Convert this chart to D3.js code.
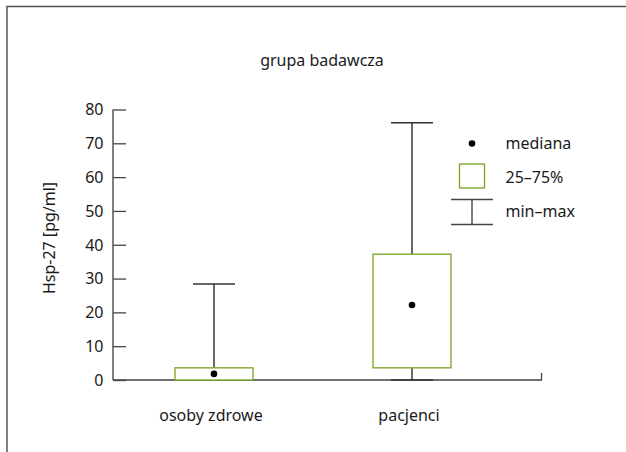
<!DOCTYPE html>
<html>
<head>
<meta charset="utf-8">
<script src="https://cdn.jsdelivr.net/npm/d3@7"></script>
<style>
  body { margin: 0; background: #fff; }
  svg { display: block; }
  text { font-family: "Noto Sans", "Open Sans", sans-serif; fill: #1a1a1a; }
</style>
</head>
<body>
<svg id="chart" width="626" height="452"></svg>
<script>
// data
var categories = ["osoby zdrowe", "pacjenci"];
var mins    = [0, 0];
var q1s     = [0, 3.6];
var medians = [1.8, 22.2];
var q3s     = [3.6, 37.2];
var maxs    = [28.4, 76.1];
var yTicks  = [0, 10, 20, 30, 40, 50, 60, 70, 80];
var legendLabels = ["mediana", "25\u201375%", "min\u2013max"];

var data = categories.map(function(c, i) {
    return { name: c, min: mins[i], q1: q1s[i], med: medians[i], q3: q3s[i], max: maxs[i] };
});

var svg = d3.select("#chart");
var green = "#7aa31f";
var ink = "#1a1a1a";
var fontsize = 16;

// outer frame: only top and left edges show in the picture
svg.append("path")
    .attr("d", "M7,452 V6.5 H626")
    .attr("fill", "none")
    .attr("stroke", "#555")
    .attr("stroke-width", 1.5);

var y = d3.scaleLinear().domain([0, 80]).range([380, 109.5]);
var x = d3.scaleBand().domain(categories).range([115, 511]).padding(0);
var boxW = 78, capW = 42;

// y axis, ticks pointing inward
var yAxis = svg.append("g")
    .attr("transform", "translate(113,0)")
    .call(d3.axisRight(y).tickValues(yTicks).tickSize(13).tickFormat(""));
yAxis.select(".domain").remove();
yAxis.selectAll("line").attr("stroke", "#444").attr("stroke-width", 1.3);
svg.append("line")
    .attr("x1", 113).attr("x2", 113)
    .attr("y1", y(80)).attr("y2", y(0))
    .attr("stroke", "#555").attr("stroke-width", 1.5);

svg.selectAll("text.ytick").data(yTicks).enter()
    .append("text")
        .attr("class", "ytick")
        .attr("x", 103.5)
        .attr("y", function(d) { return y(d); })
        .attr("dy", "0.36em")
        .attr("text-anchor", "end")
        .attr("font-size", fontsize + "px")
        .text(function(d) { return d; });

// x axis with a small end tick
svg.append("path")
    .attr("d", "M113," + y(0) + " H541.5 V" + (y(0) - 7))
    .attr("fill", "none")
    .attr("stroke", "#444")
    .attr("stroke-width", 1.3);

svg.selectAll("text.xlab").data(categories).enter()
    .append("text")
        .attr("class", "xlab")
        .attr("x", function(d) { return x(d) + x.bandwidth() / 2 - 3; })
        .attr("y", 421)
        .attr("text-anchor", "middle")
        .attr("font-size", fontsize + "px")
        .text(function(d) { return d; });

// title and y label
svg.append("text")
    .attr("x", 322).attr("y", 66)
    .attr("text-anchor", "middle")
    .attr("font-size", fontsize + "px")
    .text("grupa badawcza");

svg.append("text")
    .attr("transform", "translate(55,238) rotate(-90)")
    .attr("text-anchor", "middle")
    .attr("font-size", fontsize + "px")
    .text("Hsp-27 [pg/ml]");

// boxes
var g = svg.selectAll("g.box").data(data).enter()
    .append("g")
        .attr("class", "box")
        .attr("transform", function(d) { return "translate(" + (x(d.name) + x.bandwidth() / 2) + ",0)"; });

g.append("line")
    .attr("x1", 0).attr("x2", 0)
    .attr("y1", function(d) { return y(d.q3); })
    .attr("y2", function(d) { return y(d.max); })
    .attr("stroke", ink).attr("stroke-width", 1.3);
g.append("line")
    .attr("x1", 0).attr("x2", 0)
    .attr("y1", function(d) { return y(d.q1); })
    .attr("y2", function(d) { return y(d.min); })
    .attr("stroke", ink).attr("stroke-width", 1.3);
g.append("line")
    .attr("x1", -capW / 2).attr("x2", capW / 2)
    .attr("y1", function(d) { return y(d.max); })
    .attr("y2", function(d) { return y(d.max); })
    .attr("stroke", "#333").attr("stroke-width", 1.5);
g.filter(function(d) { return d.q1 > d.min; })
    .append("line")
        .attr("x1", -capW / 2).attr("x2", capW / 2)
        .attr("y1", function(d) { return y(d.min); })
        .attr("y2", function(d) { return y(d.min); })
        .attr("stroke", "#333").attr("stroke-width", 1.5);
g.append("rect")
    .attr("x", -boxW / 2)
    .attr("width", boxW)
    .attr("y", function(d) { return y(d.q3); })
    .attr("height", function(d) { return y(d.q1) - y(d.q3); })
    .attr("fill", "#fff")
    .attr("stroke", green).attr("stroke-width", 1.3);
g.append("circle")
    .attr("cx", 0)
    .attr("cy", function(d) { return y(d.med); })
    .attr("r", 3.3)
    .attr("fill", "#000");

// legend
var lg = svg.append("g").attr("transform", "translate(472,0)");
lg.append("circle").attr("cx", 0).attr("cy", 143.5).attr("r", 3.3).attr("fill", "#000");
lg.append("rect").attr("x", -12.5).attr("y", 164).attr("width", 25).attr("height", 24)
    .attr("fill", "#fff").attr("stroke", green).attr("stroke-width", 1.3);
lg.append("path").attr("d", "M-21,199.5 H21 M-21,224.5 H21 M0,199.5 V224.5")
    .attr("fill", "none").attr("stroke", "#444").attr("stroke-width", 1.4);
lg.selectAll("text").data(legendLabels).enter()
    .append("text")
        .attr("x", 33.5)
        .attr("y", function(d, i) { return 143.5 + i * 34; })
        .attr("dy", "0.36em")
        .attr("font-size", fontsize + "px")
        .text(function(d) { return d; });
</script>
</body>
</html>
